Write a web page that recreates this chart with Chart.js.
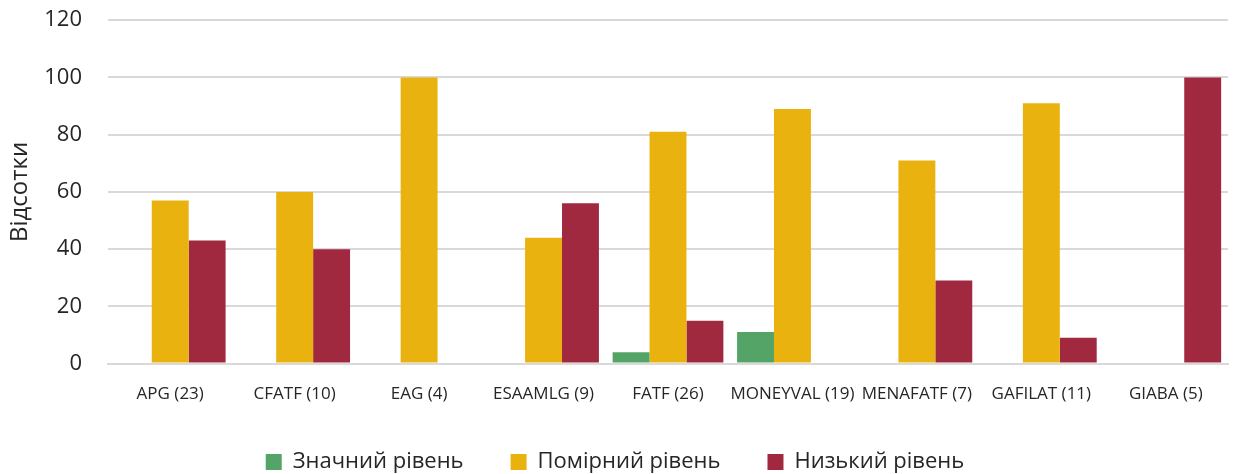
<!DOCTYPE html>
<html>
<head>
<meta charset="utf-8">
<script src="https://cdn.jsdelivr.net/npm/chart.js@4"></script>
<style>
  html, body { margin: 0; padding: 0; background: #ffffff; overflow: hidden; }
  #wrap { width: 1255px; height: 474px; overflow: hidden; }
  #chart { margin-top: -19px; display: block; }
</style>
</head>
<body>
<div id="wrap"><canvas id="chart" width="1255" height="493"></canvas></div>
<script>
// категорії та дані
const categories = ['APG (23)', 'CFATF (10)', 'EAG (4)', 'ESAAMLG (9)', 'FATF (26)', 'MONEYVAL (19)', 'MENAFATF (7)', 'GAFILAT (11)', 'GIABA (5)'];
const significant = [0, 0, 0, 0, 4, 11, 0, 0, 0];
const moderate = [57, 60, 100, 44, 81, 89, 71, 91, 0];
const low = [43, 40, 0, 56, 15, 0, 29, 9, 100];
const yTicks = [0, 20, 40, 60, 80, 100, 120];

const fontFamily = "'Open Sans', 'Noto Sans', sans-serif";
const textColor = '#262626';

const ctx = document.getElementById('chart').getContext('2d');
new Chart(ctx, {
    type: 'bar',
    data: {
        labels: categories,
        datasets: [
            { label: 'Значний рівень', data: significant, backgroundColor: '#55a467' },
            { label: 'Помірний рівень', data: moderate, backgroundColor: '#eab20f' },
            { label: 'Низький рівень', data: low, backgroundColor: '#a0293f' }
        ]
    },
    options: {
        responsive: false,
        animation: false,
        layout: { padding: { left: 2, right: 27, top: 2, bottom: -9 } },
        datasets: {
            bar: { categoryPercentage: 0.89, barPercentage: 1.0 }
        },
        scales: {
            x: {
                afterFit: function(axis) {
                    axis.height = axis.height - 12;
                },
                grid: { display: false },
                border: { display: true, color: '#d9d9d9', width: 2 },
                ticks: {
                    color: textColor,
                    font: { family: fontFamily, size: 17 },
                    maxRotation: 0,
                    autoSkip: false,
                    padding: 12
                }
            },
            y: {
                min: 0,
                max: 120,
                afterBuildTicks: function(axis) {
                    axis.ticks = yTicks.map(v => ({ value: v }));
                },
                afterFit: function(axis) {
                    axis.width = 106;
                },
                grid: { color: '#d9d9d9', lineWidth: 2, drawTicks: false },
                border: { display: false },
                ticks: {
                    color: textColor,
                    font: { family: fontFamily, size: 22 },
                    padding: 26
                },
                title: {
                    display: true,
                    text: 'Відсотки',
                    color: textColor,
                    font: { family: fontFamily, size: 24 },
                    padding: { top: 4, bottom: 0 }
                }
            }
        },
        plugins: {
            legend: {
                position: 'bottom',
                labels: {
                    color: textColor,
                    font: { family: fontFamily, size: 22 },
                    boxWidth: 16,
                    boxHeight: 16,
                    padding: 47
                }
            },
            tooltip: { enabled: false }
        }
    }
});
</script>
</body>
</html>
